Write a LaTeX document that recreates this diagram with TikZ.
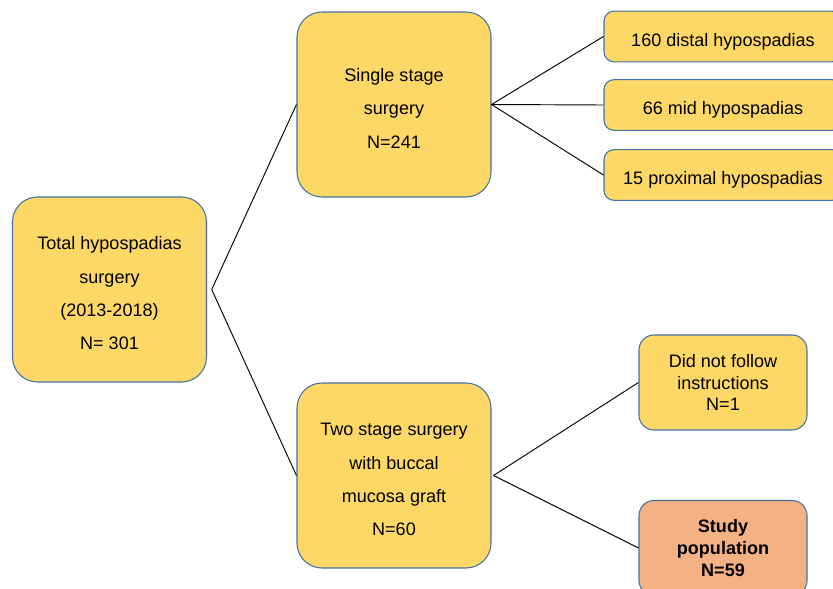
\documentclass[tikz,border=0pt]{standalone}
\usepackage{fontspec}
\setmainfont{Liberation Sans}
\usepackage{xcolor}
\usepackage{tikz}

\definecolor{boxfill}{HTML}{FDD866}
\definecolor{boxline}{HTML}{4472A8}
\definecolor{studyfill}{HTML}{F4B183}

% pushes the first line of a tall box a bit down
\newcommand{\topgap}{\rule{0pt}{17.8pt}}

\tikzset{
  bigbox/.style={draw=boxline, fill=boxfill, line width=0.9pt, rounded corners=0.75cm,
    minimum width=5.82cm, minimum height=5.55cm, align=center,
    font=\fontsize{15.4}{28.4}\selectfont},
  smallbox/.style={draw=boxline, fill=boxfill, line width=0.9pt, rounded corners=0.3cm,
    minimum width=7.14cm, minimum height=1.52cm, align=center,
    text height=19.6pt, text depth=3.2pt,
    font=\fontsize{15.4}{18.4}\selectfont},
  sidebox/.style={draw=boxline, fill=boxfill, line width=0.9pt, rounded corners=0.45cm,
    minimum width=5.04cm, minimum height=2.85cm, align=center,
    font=\fontsize{15.4}{18.4}\selectfont},
  link/.style={draw=black, line width=0.8pt}
}

\begin{document}
\begin{tikzpicture}[x=0.03cm, y=-0.03cm]
    \useasboundingbox[fill=white] (0,0) rectangle (833,589);

    % first level
    \node[bigbox] (total) at (109.5,289.5) {\topgap Total hypospadias\\surgery\\(2013-2018)\\N= 301};

    % second level
    \node[bigbox] (single) at (394,104.5) {\topgap Single stage\\surgery\\N=241};
    \node[bigbox] (twostage) at (394,475.5) {\topgap Two stage surgery\\with buccal\\mucosa graft\\N=60};

    % third level
    \node[smallbox] (distal) at (723,36.5) {160 distal hypospadias};
    \node[smallbox] (mid) at (723,105) {66 mid hypospadias};
    \node[smallbox] (proximal) at (723,175) {15 proximal hypospadias};

    \node[sidebox] (nofollow) at (723,382.5) {Did not follow\\instructions\\N=1};
    \node[sidebox, fill=studyfill, font=\fontsize{15.4}{18.4}\selectfont\bfseries] (study) at (723,548) {Study\\population\\N=59};

    % connectors
    \coordinate (totalout) at ([xshift=0.14cm]total.east);
    \draw[link] (totalout) -- (single.west);
    \draw[link] (totalout) -- (twostage.west);

    \draw[link] (single.east) -- (distal.west);
    \draw[link] (single.east) -- (mid.west);
    \draw[link] (single.east) -- (proximal.west);

    \coordinate (twoout) at ([xshift=0.06cm]twostage.east);
    \draw[link] (twoout) -- (nofollow.west);
    \draw[link] (twoout) -- (study.west);
\end{tikzpicture}
\end{document}
